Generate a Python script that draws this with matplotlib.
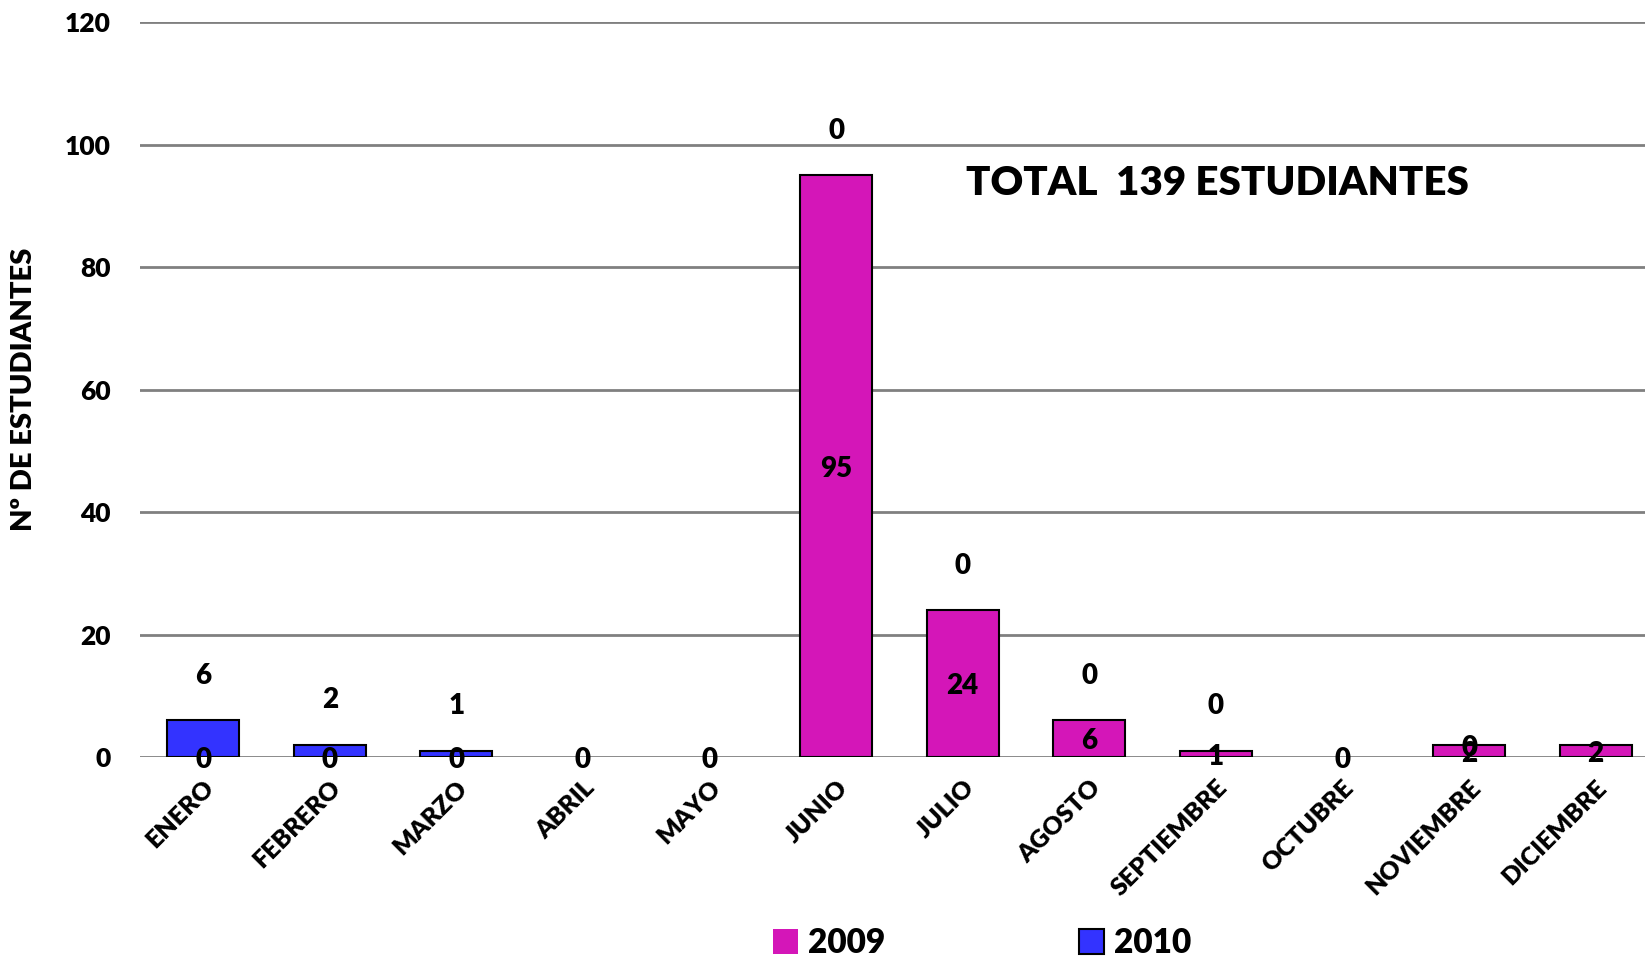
import matplotlib
matplotlib.use('Agg')
import numpy as np
import matplotlib.pyplot as plt

months = ['ENERO', 'FEBRERO', 'MARZO', 'ABRIL', 'MAYO', 'JUNIO', 'JULIO',
          'AGOSTO', 'SEPTIEMBRE', 'OCTUBRE', 'NOVIEMBRE', 'DICIEMBRE']
values_2009 = [0, 0, 0, 0, 0, 95, 24, 6, 1, 0, 2, 2]
values_2010 = [6, 2, 1, 0, 0, 0, 0, 0, 0, 0, 0, 0]
# where Excel put the 2010 label: above the bar, on the bar, or not at all
label_2010_pos = ['above', 'above', 'above', 'none', 'none', 'above', 'above',
                  'above', 'above', 'none', 'on', 'none']
yticks = [0, 20, 40, 60, 80, 100, 120]

COLOR_2009 = '#D416B8'
COLOR_2010 = '#3333FF'
FONT = 'Lato'

plt.rcParams['font.family'] = [FONT, 'DejaVu Sans']
plt.rcParams['font.weight'] = 'heavy'

fig = plt.figure(figsize=(16.45, 9.64), dpi=100)
# the plot area runs a little past the right edge of the picture
ax = fig.add_axes([0.085, 0.2147, 0.9235, 0.7623])

x = np.arange(len(months))
v09 = np.array(values_2009)
v10 = np.array(values_2010)

ax.bar(x, v09, width=0.57, color=COLOR_2009, edgecolor='black',
       linewidth=[1.5 if v > 0 else 0 for v in v09], label='2009', zorder=3)
ax.bar(x, v10, width=0.57, bottom=v09, color=COLOR_2010, edgecolor='black',
       linewidth=[1.5 if v > 0 else 0 for v in v10], label='2010', zorder=3)

# data labels
for i in range(len(months)):
    ax.annotate(str(v09[i]), (x[i], v09[i] / 2), xytext=(0, -2), textcoords='offset points',
                ha='center', va='center', fontsize=20, zorder=5)
    top = v09[i] + v10[i]
    if label_2010_pos[i] == 'above':
        ax.annotate(str(v10[i]), (x[i], top), xytext=(0, 32), textcoords='offset points',
                    ha='center', va='center', fontsize=20, zorder=5)
    elif label_2010_pos[i] == 'on':
        ax.annotate(str(v10[i]), (x[i], top), xytext=(0, -2), textcoords='offset points',
                    ha='center', va='center', fontsize=20, zorder=5)

ax.set_xlim(-0.5, len(months) - 0.5)
ax.set_ylim(0, 120)
ax.set_yticks(yticks)
ax.set_yticklabels([str(t) for t in yticks], fontsize=19)
ax.set_xticks(x)
ax.set_xticklabels(months, rotation=45, ha='right', rotation_mode='anchor', fontsize=18)
ax.tick_params(axis='both', length=0)
ax.tick_params(axis='y', pad=21)
ax.tick_params(axis='x', pad=14)

ax.grid(axis='y', color='#808080', linewidth=2, zorder=0)
for s in ax.spines.values():
    s.set_visible(False)

ax.set_ylabel('Nº DE ESTUDIANTES', fontsize=21, fontweight='heavy', labelpad=20)

fig.text(0.587, 0.81, 'TOTAL  139 ESTUDIANTES', fontsize=29, ha='left', va='center')

fig.legend(loc='lower center', bbox_to_anchor=(0.597, -0.026), ncol=2, frameon=False,
           columnspacing=5.8, handlelength=0.75, handleheight=0.75, handletextpad=0.3,
           prop={'family': FONT, 'weight': 'heavy', 'size': 24})

fig.savefig('out.png', dpi=100)
